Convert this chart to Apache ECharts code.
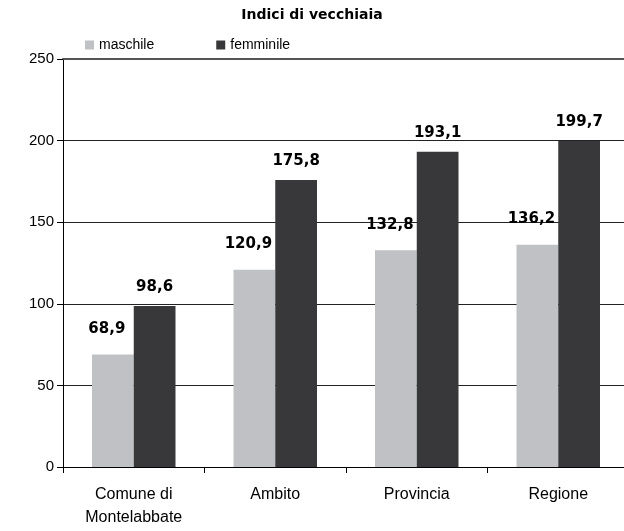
<!DOCTYPE html>
<html>
<head>
<meta charset="utf-8">
<script src="https://cdn.jsdelivr.net/npm/echarts@6/dist/echarts.min.js"></script>
<style>
  html, body { margin: 0; padding: 0; background: #fff; }
  #main { width: 624px; height: 531px; }
</style>
</head>
<body>
<div id="main"></div>
<script>
var categorie = ['Comune di\nMontelabbate', 'Ambito', 'Provincia', 'Regione'];
var maschile = [68.9, 120.9, 132.8, 136.2];
var femminile = [98.6, 175.8, 193.1, 199.7];
var yTicks = [0, 50, 100, 150, 200, 250];

var myChart = echarts.init(document.getElementById('main'));
var font = 'Liberation Sans, Arial, sans-serif';
var fontBold = 'DejaVu Sans, Liberation Sans, sans-serif';

// etichette con la virgola decimale
function virgola (p) {
  return p.value.toFixed(1).replace('.', ',');
}

var option = {
  animation: false,
  title: {
    text: 'Indici di vecchiaia',
    left: 'center',
    top: 3,
    textStyle: { fontFamily: fontBold, fontSize: 14, fontWeight: 'bold', color: '#000' }
  },
  legend: {
    data: ['maschile', 'femminile'],
    left: 80,
    top: 33,
    itemWidth: 9,
    itemHeight: 9,
    itemGap: 62,
    icon: 'rect',
    textStyle: { fontFamily: font, fontSize: 14, color: '#000' }
  },
  grid: {
    left: 63,
    top: 59,
    height: 408,
    width: 566,
    outerBoundsMode: 'none'
  },
  xAxis: [
    {
      type: 'category',
      data: categorie,
      axisLine: { lineStyle: { color: '#000', width: 1 } },
      axisTick: { show: true, length: 6, lineStyle: { color: '#000' } },
      axisLabel: { fontFamily: font, fontSize: 16, color: '#000', margin: 16, lineHeight: 23 }
    },
    {
      // linea superiore più spessa (250)
      type: 'category',
      position: 'top',
      data: categorie,
      axisLine: { lineStyle: { color: '#555', width: 2 } },
      axisTick: { show: false },
      axisLabel: { show: false }
    }
  ],
  yAxis: {
    type: 'value',
    min: yTicks[0],
    max: yTicks[yTicks.length - 1],
    interval: 50,
    axisLine: { show: true, lineStyle: { color: '#000', width: 1 } },
    axisTick: { show: true, length: 6, lineStyle: { color: '#000' } },
    axisLabel: { fontFamily: font, fontSize: 15, color: '#000', margin: 9 },
    splitLine: { lineStyle: { color: '#222', width: 1 } }
  },
  series: [
    {
      name: 'maschile',
      type: 'bar',
      data: maschile,
      barGap: '0%',
      barCategoryGap: '41%',
      itemStyle: { color: '#bfc1c4' },
      label: {
        show: true, position: 'top', distance: 18, offset: [-6, 0], formatter: virgola,
        fontFamily: fontBold, fontSize: 15, fontWeight: 'bold', color: '#000'
      }
    },
    {
      name: 'femminile',
      type: 'bar',
      data: femminile,
      barGap: '0%',
      barCategoryGap: '41%',
      itemStyle: { color: '#38383a' },
      label: {
        show: true, position: 'top', distance: 11, formatter: virgola,
        fontFamily: fontBold, fontSize: 15, fontWeight: 'bold', color: '#000'
      }
    }
  ]
};

myChart.setOption(option);
</script>
</body>
</html>
